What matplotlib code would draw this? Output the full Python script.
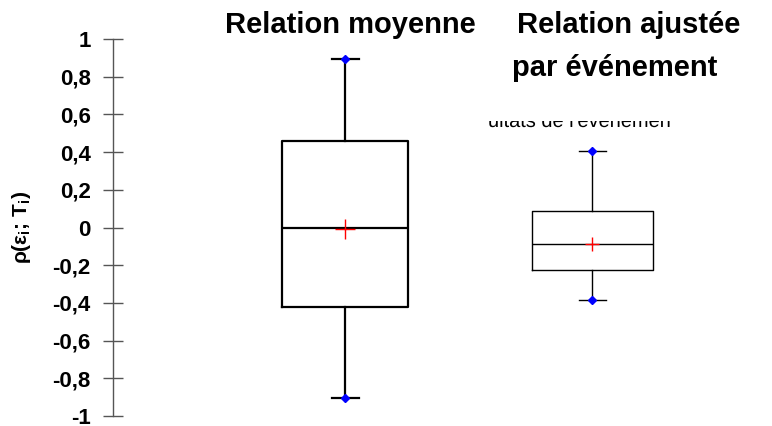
import matplotlib.pyplot as plt
from matplotlib.font_manager import FontProperties
from matplotlib.patches import PathPatch
from matplotlib.textpath import TextPath
from matplotlib.transforms import Affine2D, Bbox, IdentityTransform

plt.rcParams['font.family'] = ['Liberation Sans', 'DejaVu Sans']
plt.rcParams['font.weight'] = 'bold'

groups = ["Relation moyenne", "Relation ajustée\npar événement"]
whis_hi = [0.895, 0.408]
q3 = [0.46, 0.085]
median = [0.0, -0.09]
mean = [-0.01, -0.085]
q1 = [-0.42, -0.223]
whis_lo = [-0.905, -0.387]
yticks = [-1, -0.8, -0.6, -0.4, -0.2, 0, 0.2, 0.4, 0.6, 0.8, 1]
ytick_labels = ["-1", "-0,8", "-0,6", "-0,4", "-0,2", "0", "0,2", "0,4", "0,6", "0,8", "1"]
hidden_text = "ultats de l'événement"

W, H = 772, 426
fig = plt.figure(figsize=(W / 100, H / 100), dpi=100)
ax = fig.add_axes([113 / W, 10 / H, (W - 113) / W, 377 / H])
ax.set_xlim(113, W)
ax.set_ylim(-1, 1)

positions = [345, 592]
widths = [126, 121]
lws = [1.6, 1.0]
mean_sizes = [14, 10]

for i in range(2):
    stats = [dict(med=median[i], q1=q1[i], q3=q3[i], whislo=whis_lo[i],
                  whishi=whis_hi[i], mean=mean[i], fliers=[])]
    lw = lws[i]
    ax.bxp(stats, positions=[positions[i]], widths=[widths[i]],
           showmeans=True, showfliers=False, capwidths=[27],
           boxprops=dict(color='black', linewidth=lw),
           medianprops=dict(color='black', linewidth=lw),
           whiskerprops=dict(color='black', linewidth=lw),
           capprops=dict(color='black', linewidth=lw),
           meanprops=dict(marker='+', markeredgecolor='red',
                          markersize=mean_sizes[i], markeredgewidth=1.0),
           manage_ticks=False)
    ax.plot([positions[i], positions[i]], [whis_lo[i], whis_hi[i]],
            linestyle='none', marker='D', color='blue', markersize=4.5, zorder=5)

for s in ['top', 'right', 'bottom']:
    ax.spines[s].set_visible(False)
ax.spines['left'].set_color('#555555')
ax.spines['left'].set_linewidth(1.0)
ax.set_xticks([])
ax.set_yticks(yticks)
ax.set_yticklabels(ytick_labels, fontsize=16, fontweight='bold')
ax.tick_params(axis='y', direction='inout', length=14, width=1.0,
               color='#555555', pad=9)
ax.set_ylabel("ρ(ε$_\\mathregular{i}$; T$_\\mathregular{i}$)", fontsize=15,
              fontweight='bold')
ax.yaxis.set_label_coords(-(113 - 33) / (W - 113), 0.5)

fig.text(350 / W, 1 - 25 / H, groups[0], fontsize=21, fontweight='bold',
         ha='center', va='center')
t1, t2 = groups[1].split("\n")
fig.text(629 / W, 1 - 25 / H, t1, fontsize=21, fontweight='bold',
         ha='center', va='center')
fig.text(615 / W, 1 - 68 / H, t2, fontsize=21, fontweight='bold',
         ha='center', va='center')

# partly hidden text behind the title: only its lower strip shows
tp = TextPath((0, 0), hidden_text, size=20,
              prop=FontProperties(family='Liberation Sans', weight='normal'))
ghost = PathPatch(tp, facecolor='black', edgecolor='none',
                  transform=Affine2D().translate(488, H - 127) + IdentityTransform())
fig.add_artist(ghost)
ghost.set_clip_box(Bbox.from_extents(486, H - 128, 670, H - 121))
ghost.set_clip_on(True)

fig.savefig("out.png", dpi=100)
